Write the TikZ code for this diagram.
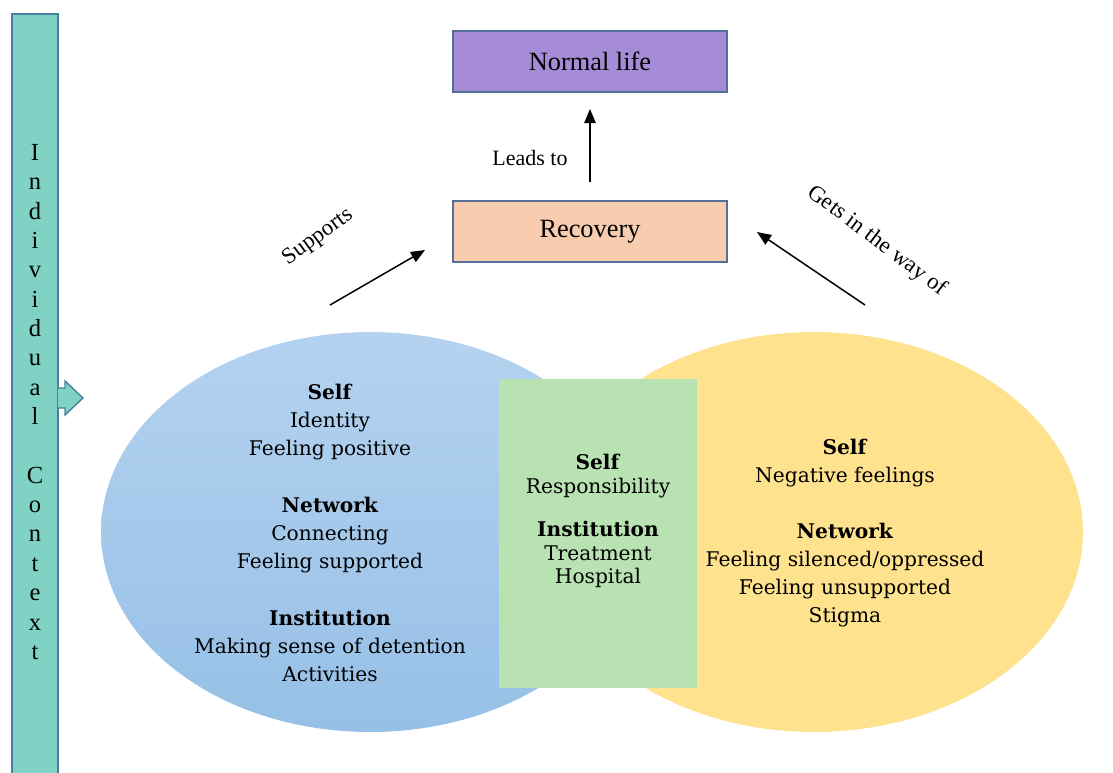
\documentclass[tikz,border=0pt]{standalone}
\usepackage{fontspec}
\setmainfont{Liberation Serif}
\newfontfamily\dvs{DejaVu Serif}
\usepackage{tikz}
\usetikzlibrary{arrows.meta,shapes.geometric,positioning}
\definecolor{bar}{RGB}{128, 210, 196}
\definecolor{barline}{RGB}{72, 128, 160}
\definecolor{nl}{RGB}{166, 139, 214}
\definecolor{rc}{RGB}{248, 204, 174}
\definecolor{boxline}{RGB}{86, 110, 156}
\definecolor{blt}{RGB}{180, 210, 240}
\definecolor{blb}{RGB}{150, 192, 230}
\definecolor{yl}{RGB}{254, 226, 142}
\definecolor{gr}{RGB}{184, 226, 178}

\begin{document}
\begin{tikzpicture}[x=0.02cm, y=-0.02cm,
    box/.style={draw=boxline, line width=1.1pt, minimum width=5.48cm, minimum height=1.22cm,
      font=\fontsize{15}{18}\selectfont},
    lbl/.style={font=\fontsize{13}{15}\selectfont},
    arr/.style={-{Triangle[length=8pt, width=6.5pt]}, line width=0.85pt},
    blob/.style={ellipse, minimum width=10.76cm, minimum height=8cm, inner sep=0pt},
    txt/.style={align=center, inner sep=0pt}]
  \useasboundingbox (0,0) rectangle (1113,772);

  % context bar on the left
  \fill[bar, draw=barline, line width=0.8pt] (12,14) rectangle (58,780);
  \filldraw[fill=bar, draw=barline, line width=0.8pt]
    (58,388) -- (65,388) -- (65,381) -- (83,398) -- (65,415) -- (65,408) -- (58,408);
  \node[txt, font=\fontsize{14}{16.7}\selectfont] (ctx) at (35,402)
    {I\\n\\d\\i\\v\\i\\d\\u\\a\\l\\[16.7pt]C\\o\\n\\t\\e\\x\\t};

  % the two sets and their overlap
  \node[blob, top color=blt, bottom color=blb] (pos) at (370,532) {};
  \node[blob, fill=yl] (neg) at (814,532) {};
  \node[fill=gr, minimum width=3.96cm, minimum height=6.18cm, inner sep=0pt] (mid) at (598,533.5) {};

  \node[txt, font=\dvs\fontsize{11.5}{15.7}\selectfont] (postxt) at (330,533)
    {\textbf{Self}\\Identity\\Feeling positive\\[17.2pt]
     \textbf{Network}\\Connecting\\Feeling supported\\[17.2pt]
     \textbf{Institution}\\Making sense of detention\\Activities};
  \node[txt, font=\dvs\fontsize{11.5}{13.2}\selectfont] (midtxt) at (598,521)
    {\textbf{Self}\\Responsibility\\[11.8pt]
     \textbf{Institution}\\Treatment\\Hospital};
  \node[txt, font=\dvs\fontsize{11.5}{15.9}\selectfont] (negtxt) at (845,533)
    {\textbf{Self}\\Negative feelings\\[16.4pt]
     \textbf{Network}\\Feeling silenced/oppressed\\Feeling unsupported\\Stigma};

  % outcome boxes
  \node[box, fill=nl] (normal) at (590,61.5) {Normal life};
  \node[box, fill=rc] (rec) at (590,231.5) {Recovery};

  \coordinate (supfoot) at (330,305);
  \coordinate (supend) at (425,250);
  \coordinate (getfoot) at (865,305);
  \coordinate (getend) at (757,232);

  \draw[arr, shorten <=0.36cm, shorten >=0.32cm] (rec.north) -- (normal.south);
  \draw[arr] (supfoot) -- (supend);
  \draw[arr] (getfoot) -- (getend);

  \node[font=\fontsize{12.5}{15}\selectfont] (leads) at (530,158) {Leads to};
  \node[lbl, rotate=36] (sup) at (318,237) {Supports};
  \node[lbl, rotate=-37] (get) at (877,241) {Gets in the way of};
\end{tikzpicture}
\end{document}
